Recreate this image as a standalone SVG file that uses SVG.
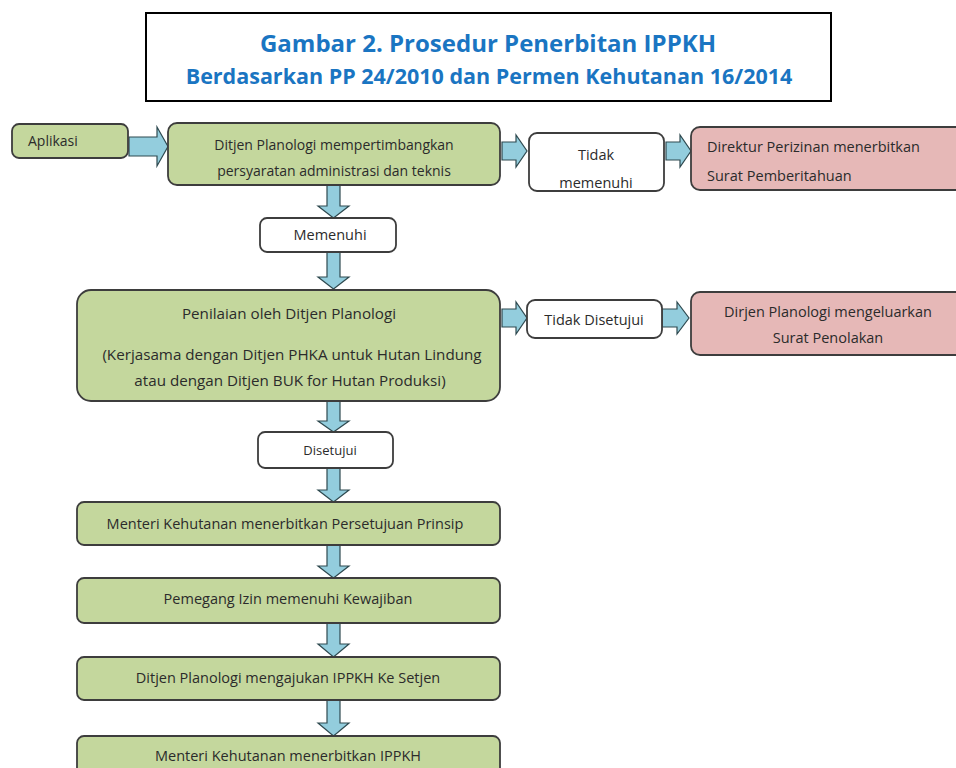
<svg xmlns="http://www.w3.org/2000/svg" width="956" height="768" viewBox="0 0 956 768">
<style>
text{font-family:"Open Sans","Liberation Sans",sans-serif;fill:#2b2b2b;font-size:14.5px}
.c{text-anchor:middle}
.g{fill:#c4d79d;stroke:#3d3d3d;stroke-width:1.8}
.w{fill:#ffffff;stroke:#3d3d3d;stroke-width:1.8}
.p{fill:#e6b8b7;stroke:#3d3d3d;stroke-width:1.8}
.a{fill:#93cddd;stroke:#2f4a50;stroke-width:1.2}
.t1{fill:#1a75c2;font-weight:bold;font-size:24px}
.t2{fill:#1a75c2;font-weight:bold;font-size:21.5px}
</style>
<rect width="956" height="768" fill="#ffffff"/>
<g id="title">
<rect x="146" y="13" width="685" height="88" fill="#ffffff" stroke="#000000" stroke-width="2"/>
<text class="t1 c" x="488" y="52">Gambar 2. Prosedur Penerbitan IPPKH</text>
<text class="t2 c" x="489" y="84">Berdasarkan PP 24/2010 dan Permen Kehutanan 16/2014</text>
</g>
<g id="connectors">
<path class="a" d="M129,137 H157 V127 L168,146.5 L157,166 V156 H129 Z"/>
<path class="a" d="M502,142 H516 V135 L527,151 L516,167 V160 H502 Z"/>
<path class="a" d="M666,142 H680 V135 L691,151 L680,167 V160 H666 Z"/>
<path class="a" d="M502,309 H516 V302 L527,318 L516,334 V327 H502 Z"/>
<path class="a" d="M662,309 H677 V302 L689,318 L677,334 V327 H662 Z"/>
<path class="a" d="M327,185 H340 V206 H349 L333.5,218 L318,206 H327 Z"/>
<path class="a" d="M327,252 H340 V277 H349 L333.5,289 L318,277 H327 Z"/>
<path class="a" d="M327,401 H340 V421 H349 L333.5,432 L318,421 H327 Z"/>
<path class="a" d="M327,468 H340 V490 H349 L333.5,502 L318,490 H327 Z"/>
<path class="a" d="M327,545 H340 V566 H349 L333.5,578 L318,566 H327 Z"/>
<path class="a" d="M327,623 H340 V644 H349 L333.5,657 L318,644 H327 Z"/>
<path class="a" d="M327,700 H340 V723 H349 L333.5,736 L318,723 H327 Z"/>
</g>
<g id="aplikasi">
<rect class="g" x="12" y="124" width="116" height="34" rx="7"/>
<text x="28" y="146" style="font-size:14px">Aplikasi</text>
</g>
<g id="pertimbangan">
<rect class="g" x="168" y="123" width="332" height="62" rx="9"/>
<text class="c" x="334" y="150" style="font-size:14px">Ditjen Planologi mempertimbangkan</text>
<text class="c" x="334" y="176" style="font-size:14px">persyaratan administrasi dan teknis</text>
</g>
<g id="tidak-memenuhi">
<rect class="w" x="529" y="133" width="135" height="58" rx="8"/>
<text class="c" x="596" y="160">Tidak</text>
<text class="c" x="596" y="188">memenuhi</text>
</g>
<g id="pemberitahuan">
<rect class="p" x="691" y="127" width="275" height="63" rx="9"/>
<text x="707" y="152">Direktur Perizinan menerbitkan</text>
<text x="707" y="181">Surat Pemberitahuan</text>
</g>
<g id="memenuhi">
<rect class="w" x="260" y="218" width="136" height="34" rx="7"/>
<text class="c" x="330" y="240">Memenuhi</text>
</g>
<g id="penilaian">
<rect class="g" x="77" y="290" width="423" height="111" rx="14"/>
<text class="c" x="289" y="319" style="font-size:15.2px">Penilaian oleh Ditjen Planologi</text>
<text class="c" x="292" y="360" style="font-size:15.2px">(Kerjasama dengan Ditjen PHKA untuk Hutan Lindung</text>
<text class="c" x="290" y="386" style="font-size:15.2px">atau dengan Ditjen BUK for Hutan Produksi)</text>
</g>
<g id="tidak-disetujui">
<rect class="w" x="527" y="300" width="135" height="38" rx="8"/>
<text class="c" x="594" y="325">Tidak Disetujui</text>
</g>
<g id="penolakan">
<rect class="p" x="691" y="292" width="275" height="63" rx="9"/>
<text class="c" x="828" y="317">Dirjen Planologi mengeluarkan</text>
<text class="c" x="828" y="343">Surat Penolakan</text>
</g>
<g id="disetujui">
<rect class="w" x="258" y="432" width="135" height="36" rx="7"/>
<text class="c" x="330" y="455" style="font-size:13px">Disetujui</text>
</g>
<g id="persetujuan-prinsip">
<rect class="g" x="77" y="502" width="423" height="43" rx="7"/>
<text class="c" x="285" y="529">Menteri Kehutanan menerbitkan Persetujuan Prinsip</text>
</g>
<g id="kewajiban">
<rect class="g" x="77" y="578" width="423" height="45" rx="7"/>
<text class="c" x="288" y="604">Pemegang Izin memenuhi Kewajiban</text>
</g>
<g id="ajukan">
<rect class="g" x="77" y="657" width="423" height="43" rx="7"/>
<text class="c" x="288" y="683">Ditjen Planologi mengajukan IPPKH Ke Setjen</text>
</g>
<g id="ippkh">
<rect class="g" x="77" y="736" width="423" height="45" rx="7"/>
<text class="c" x="288" y="761">Menteri Kehutanan menerbitkan IPPKH</text>
</g>
</svg>
